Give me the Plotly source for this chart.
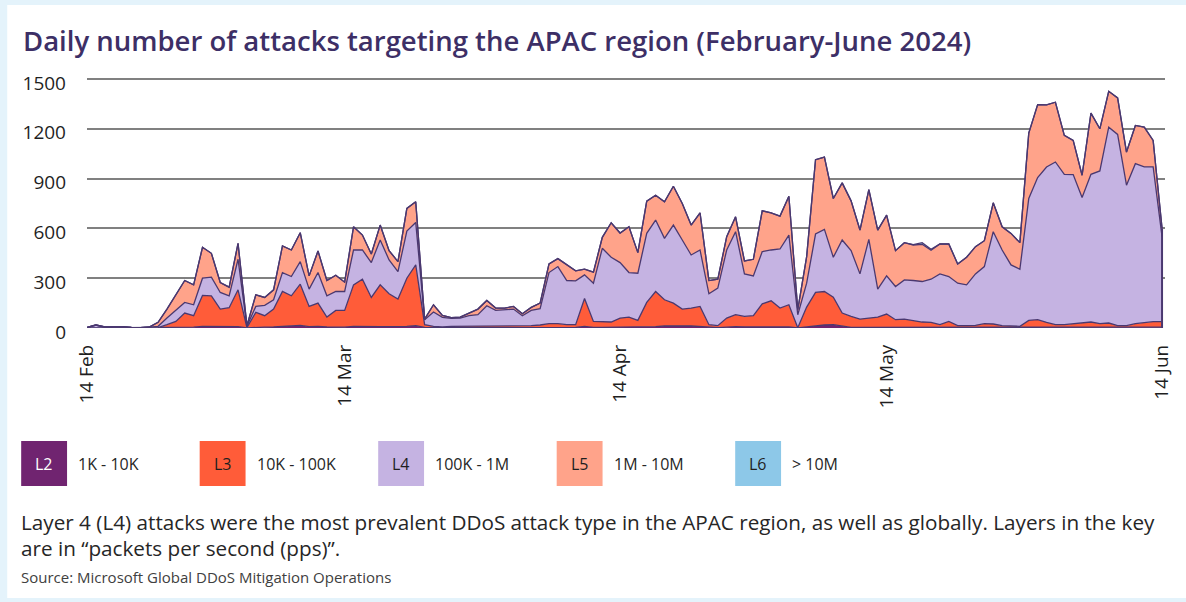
import pandas as pd
import plotly.graph_objects as go

# Daily attack counts, 14 Feb - 14 Jun 2024, split by packet-rate layer
dates = pd.date_range("2024-02-14", "2024-06-14", freq="D")

l2 = [1, 1, 1, 1, 1, 1, 1, 1, 1, 2, 3, 5, 5, 10, 10, 8, 6, 8, 1, 5,
      5, 6, 10, 10, 16, 8, 10, 6, 5, 5, 10, 8, 8, 8, 8, 8, 10, 14, 3, 2,
      2, 2, 2, 2, 2, 2, 2, 2, 2, 2, 2, 2, 3, 3, 3, 3, 10, 4, 4, 4,
      4, 5, 5, 6, 8, 12, 14, 12, 12, 8, 4, 2, 5, 8, 6, 6, 10, 10, 8, 6,
      1, 8, 14, 18, 20, 10, 4, 4, 4, 4, 4, 4, 4, 4, 4, 4, 3, 4, 3, 3,
      3, 4, 4, 3, 3, 2, 6, 6, 4, 3, 3, 4, 4, 5, 4, 4, 3, 3, 4, 4,
      5, 5]
l3 = [0, 0, 0, 0, 0, 0, 0, 1, 1, 18, 37, 85, 69, 186, 184, 106, 116, 222, 1, 89,
      69, 108, 210, 184, 248, 122, 140, 60, 101, 101, 250, 286, 176, 252, 198, 166, 290, 366, 17, 8,
      4, 8, 8, 8, 8, 8, 8, 8, 8, 8, 12, 16, 23, 23, 17, 17, 168, 36, 32, 32,
      56, 61, 41, 148, 212, 158, 136, 102, 108, 122, 16, 12, 55, 72, 64, 68, 136, 154, 112, 134,
      1, 118, 200, 202, 166, 80, 66, 50, 56, 62, 80, 46, 50, 42, 32, 30, 17, 36, 11, 11,
      13, 22, 20, 11, 11, 8, 40, 44, 30, 17, 17, 22, 26, 31, 22, 26, 11, 11, 22, 30,
      33, 33]
l4 = [2, 17, 5, 7, 7, 3, 1, 3, 8, 40, 70, 64, 66, 104, 112, 100, 72, 184, 8, 36,
      62, 56, 114, 116, 136, 104, 184, 128, 114, 114, 210, 176, 210, 270, 204, 166, 284, 256, 30, 86,
      58, 48, 50, 64, 70, 124, 96, 100, 104, 64, 92, 98, 308, 344, 266, 264, 142, 230, 444, 390,
      334, 268, 284, 416, 430, 370, 470, 416, 320, 340, 186, 226, 410, 500, 256, 240, 314, 306, 356, 420,
      78, 144, 352, 374, 240, 440, 396, 272, 474, 168, 230, 200, 236, 240, 244, 260, 306, 270, 256, 246,
      310, 344, 556, 456, 366, 344, 734, 856, 936, 980, 906, 898, 756, 890, 920, 1180, 1152, 846, 964, 936,
      932, 512]
l5 = [0, 0, 0, 0, 0, 0, 0, 1, 24, 54, 90, 132, 120, 186, 144, 60, 52, 96, 4, 70,
      48, 60, 160, 160, 174, 80, 130, 92, 98, 56, 140, 90, 52, 90, 56, 60, 136, 124, 4, 44,
      12, 4, 6, 16, 34, 32, 14, 10, 16, 12, 18, 34, 52, 48, 94, 60, 34, 66, 66, 208,
      178, 276, 124, 194, 150, 220, 234, 220, 180, 224, 80, 54, 80, 90, 78, 100, 246, 224, 198, 234,
      30, 160, 448, 436, 354, 344, 300, 264, 300, 356, 366, 216, 224, 214, 224, 174, 180, 196, 116, 166,
      164, 156, 174, 140, 190, 160, 394, 440, 374, 360, 234, 206, 134, 368, 254, 216, 220, 200, 230, 240,
      160, 50]
l6 = [0] * 93 + [2, 10, 6] + [0] * 26

layers = ["L2", "L3", "L4", "L5", "L6"]
ranges = ["1K - 10K", "10K - 100K", "100K - 1M", "1M - 10M", "> 10M"]
colors = ["#702470", "#ff5c39", "#c5b3e2", "#ffa38a", "#8dc8e8"]
code_text = ["#ffffff", "#1f1f1f", "#1f1f1f", "#1f1f1f", "#1f1f1f"]

y_ticks = [0, 300, 600, 900, 1200, 1500]
x_ticks = ["2024-02-14", "2024-03-14", "2024-04-14", "2024-05-14", "2024-06-14"]
x_labels = ["14 Feb", "14 Mar", "14 Apr", "14 May", "14 Jun"]

title = "Daily number of attacks targeting the APAC region (February-June 2024)"
note_1 = ("Layer 4 (L4) attacks were the most prevalent DDoS attack type in the APAC region, "
          "as well as globally. Layers in the key")
note_2 = "are in \u201cpackets per second (pps)\u201d."
source = "Source: Microsoft Global DDoS Mitigation Operations"

W, H = 1186, 602
L, R, T, B = 87, 1168, 76, 328
FONT = "Open Sans"
OUTLINE = "#4a3870"


def px(x):
    return (x - L) / (R - L)


def py(y):
    return (B - y) / (B - T)


fig = go.Figure()
for name, vals, col in zip(layers, [l2, l3, l4, l5, l6], colors):
    fig.add_trace(go.Scatter(
        x=dates, y=vals, name=name, mode="lines", stackgroup="one",
        line=dict(color=OUTLINE, width=1.3), fillcolor=col,
        showlegend=False,
    ))

last_total = l2[-1] + l3[-1] + l4[-1] + l5[-1] + l6[-1]
shapes = [
    # white card on the pale blue page
    dict(type="rect", xref="paper", yref="paper", layer="below",
         x0=px(7), x1=px(W + 5), y0=py(598), y1=py(5),
         fillcolor="#ffffff", line=dict(width=0)),
    # closing edge of the stacked area on the last day
    dict(type="line", xref="x", yref="y", x0=dates[-1], x1=dates[-1],
         y0=0, y1=last_total, line=dict(color=OUTLINE, width=2)),
]
annotations = [
    dict(text=title, xref="paper", yref="paper", x=px(21), y=py(40),
         xanchor="left", yanchor="middle", showarrow=False,
         font=dict(family=FONT, size=27.5, weight=600, color="#3d2f66")),
    dict(text=note_1, xref="paper", yref="paper", x=px(19), y=py(522),
         xanchor="left", yanchor="middle", showarrow=False,
         font=dict(family=FONT, size=20.7, color="#262626")),
    dict(text=note_2, xref="paper", yref="paper", x=px(19), y=py(548),
         xanchor="left", yanchor="middle", showarrow=False,
         font=dict(family=FONT, size=20.7, color="#262626")),
    dict(text=source, xref="paper", yref="paper", x=px(19), y=py(577),
         xanchor="left", yanchor="middle", showarrow=False,
         font=dict(family=FONT, size=15, color="#404040")),
]

# key: coloured code boxes followed by the pps range
for k, (code, rng, col, tcol) in enumerate(zip(layers, ranges, colors, code_text)):
    x0 = 21 + 179 * k
    shapes.append(dict(type="rect", xref="paper", yref="paper",
                       x0=px(x0), x1=px(x0 + 46), y0=py(486), y1=py(441),
                       fillcolor=col, line=dict(width=0)))
    annotations.append(dict(text=code, xref="paper", yref="paper",
                            x=px(x0 + 23), y=py(464), xanchor="center", yanchor="middle",
                            showarrow=False, font=dict(family=FONT, size=16, color=tcol)))
    annotations.append(dict(text=rng, xref="paper", yref="paper",
                            x=px(x0 + 55), y=py(464), xanchor="left", yanchor="middle",
                            showarrow=False, font=dict(family=FONT, size=16, color="#262626")))

fig.update_layout(
    width=W, height=H,
    margin=dict(l=L, r=W - R, t=T, b=H - B, pad=0),
    paper_bgcolor="#e4f3fb", plot_bgcolor="rgba(0,0,0,0)",
    shapes=shapes, annotations=annotations,
    font=dict(family=FONT, color="#1f1f1f"),
    hovermode=False,
)
fig.update_xaxes(
    type="date", range=[dates[0], dates[-1] + pd.Timedelta(hours=8)],
    tickvals=x_ticks, ticktext=x_labels, tickangle=-90,
    showgrid=False, zeroline=False, showline=False, ticks="",
    ticklabelstandoff=12, tickfont=dict(family=FONT, size=19, color="#1f1f1f"),
)
fig.update_yaxes(
    range=[0, 1518], tickvals=y_ticks, ticktext=[str(v) for v in y_ticks],
    showgrid=True, gridcolor="#808080", gridwidth=1.5, zeroline=False,
    showline=False, ticks="", ticklabelstandoff=20, ticklabelshift=4,
    tickfont=dict(family=FONT, size=19, color="#1f1f1f"),
)

fig.write_html("out.html")
